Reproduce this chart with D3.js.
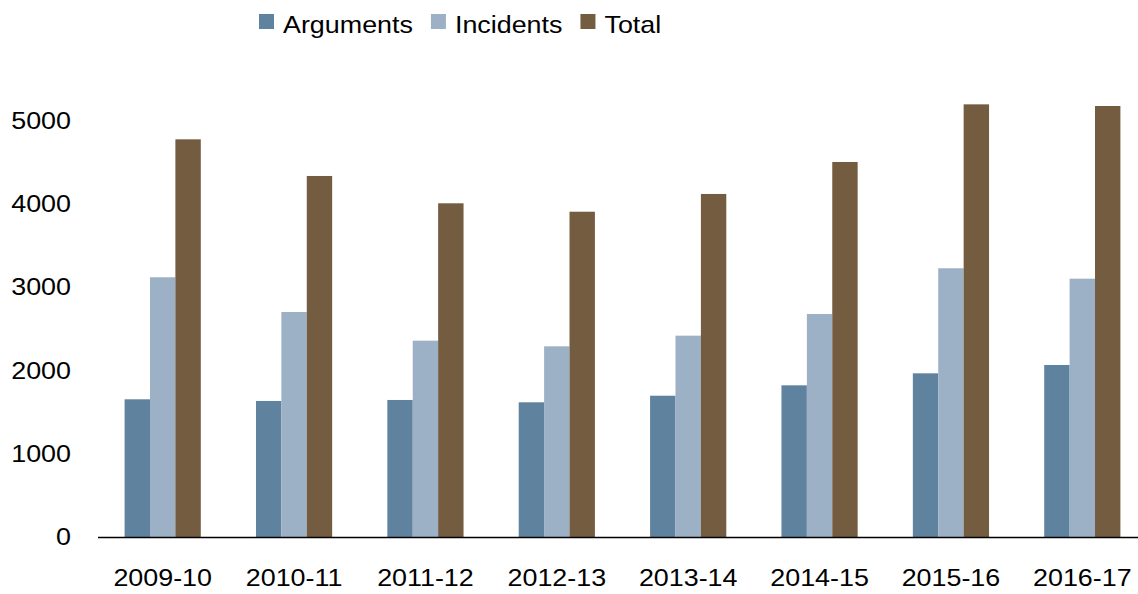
<!DOCTYPE html>
<html>
<head>
<meta charset="utf-8">
<script src="https://cdn.jsdelivr.net/npm/d3@7"></script>
<style>
  body { margin: 0; background: #fff; }
  text { font-family: "Liberation Sans", Arial, sans-serif; fill: #000; }
</style>
</head>
<body>
<div id="wrapper"></div>
<script>
const years = ["2009-10", "2010-11", "2011-12", "2012-13", "2013-14", "2014-15", "2015-16", "2016-17"];
const series = ["Arguments", "Incidents", "Total"];
const argumentsValues = [1653, 1633, 1645, 1617, 1696, 1821, 1965, 2065];
const incidentsValues = [3118, 2701, 2357, 2289, 2417, 2677, 3226, 3101];
const totalValues = [4774, 4334, 4006, 3905, 4118, 4502, 5194, 5174];
const yTicks = [0, 1000, 2000, 3000, 4000, 5000];
const colors = ["#5f829e", "#9cb0c6", "#745c41"];

const width = 1138, height = 594;
const stretch = "scale(1.12,1)"; // text in the source is a bit wide

const rows = years.map((y, i) => ({
  year: y,
  values: [argumentsValues[i], incidentsValues[i], totalValues[i]],
}));

const svg = d3.select("#wrapper")
  .append("svg")
  .attr("width", width)
  .attr("height", height);

const x0 = d3.scaleBand()
  .domain(years)
  .range([97, 1148])
  .paddingInner(0.42)
  .paddingOuter(0.21);

const x1 = d3.scaleBand()
  .domain(series)
  .range([0, x0.bandwidth()]);

const y = d3.scaleLinear()
  .domain([0, 5000])
  .range([537, 120.5]);

const color = d3.scaleOrdinal().domain(series).range(colors);

// bars
const groups = svg.append("g")
  .selectAll("g")
  .data(rows)
  .join("g")
  .attr("transform", (d) => `translate(${x0(d.year)},0)`);

groups.selectAll("rect")
  .data((d) => d.values.map((v, i) => ({ key: series[i], value: v })))
  .join("rect")
  .attr("x", (d) => x1(d.key))
  .attr("y", (d) => y(d.value))
  .attr("width", x1.bandwidth())
  .attr("height", (d) => y(0) - y(d.value))
  .attr("fill", (d) => color(d.key));

// y axis, labels only
const yAxis = svg.append("g")
  .attr("transform", "translate(71,0)")
  .call(d3.axisLeft(y).tickValues(yTicks).tickFormat(d3.format("d")).tickSize(0).tickPadding(0));
yAxis.select(".domain").remove();
yAxis.selectAll("text")
  .attr("font-size", 24)
  .attr("font-family", null)
  .attr("transform", stretch);

// x axis
const xAxis = svg.append("g")
  .attr("transform", "translate(0,537)")
  .call(d3.axisBottom(x0).tickSize(0).tickPadding(32));
xAxis.select(".domain").remove();
xAxis.selectAll("text")
  .attr("font-size", 24)
  .attr("font-family", null)
  .attr("transform", stretch);

svg.append("line")
  .attr("x1", 98)
  .attr("x2", width)
  .attr("y1", y(0) + 0.5)
  .attr("y2", y(0) + 0.5)
  .attr("stroke", "#000")
  .attr("stroke-width", 1.3);

// legend
const legend = svg.append("g").attr("transform", "translate(259,14)");
let lx = 0;
series.forEach((s) => {
  const item = legend.append("g").attr("transform", `translate(${lx},0)`);
  item.append("rect")
    .attr("width", 15)
    .attr("height", 15)
    .attr("fill", color(s));
  const t = item.append("text")
    .attr("x", 24 / 1.12)
    .attr("y", 19)
    .attr("font-size", 24)
    .attr("transform", stretch)
    .text(s);
  const w = t.node().getComputedTextLength() * 1.12;
  lx += 24 + w + 18;
});
</script>
</body>
</html>
